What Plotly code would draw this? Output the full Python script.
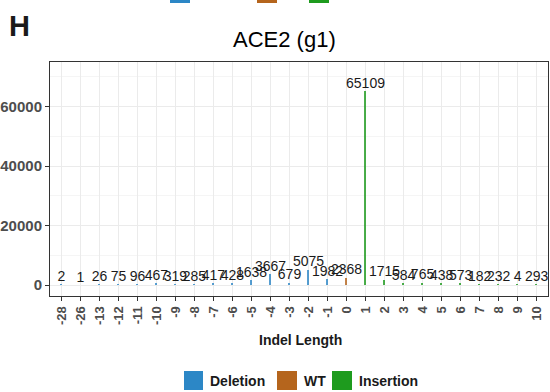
import plotly.graph_objects as go

# Indel lengths and read counts for ACE2 guide 1
indel_length = ["-28", "-26", "-13", "-12", "-11", "-10", "-9", "-8", "-7", "-6",
                "-5", "-4", "-3", "-2", "-1", "0", "1", "2", "3", "4",
                "5", "6", "7", "8", "9", "10"]
read_counts = [2, 1, 26, 75, 96, 467, 319, 285, 417, 428,
               1638, 3667, 679, 5075, 1982, 2368, 65109, 1715, 584, 765,
               438, 573, 182, 232, 4, 293]
indel_type = ["Deletion"] * 15 + ["WT"] + ["Insertion"] * 10

type_colors = {"Deletion": "#2C87C6", "WT": "#B5651D", "Insertion": "#1E9B1E"}
type_order = ["Deletion", "WT", "Insertion"]

FONT = "Liberation Sans, Arial, sans-serif"

# plot panel position in pixels
PL, PR, PT, PB = 50, 548, 62, 296


def px_x(p):
    return (p - PL) / (PR - PL)


def px_y(p):
    return (PB - p) / (PB - PT)


fig = go.Figure()

for t in type_order:
    xs = [x for x, k in zip(indel_length, indel_type) if k == t]
    ys = [y for y, k in zip(read_counts, indel_type) if k == t]
    fig.add_trace(go.Bar(
        x=xs, y=ys, name=t, width=0.07,
        marker=dict(color=type_colors[t], line=dict(width=0)),
        opacity=0.8, showlegend=False,
    ))

# count labels above each bar
fig.add_trace(go.Scatter(
    x=indel_length, y=read_counts, mode="text",
    text=[str(v) for v in read_counts], textposition="top center",
    textfont=dict(family=FONT, size=14, color="#1a1a1a"),
    showlegend=False, cliponaxis=False, hoverinfo="skip",
))

# partial legend swatches of the panel above, cut at the top edge
for x0, x1, t in [(170, 190, "Deletion"), (257, 277, "WT"), (309, 329, "Insertion")]:
    fig.add_shape(type="rect", xref="paper", yref="paper",
                  x0=px_x(x0), x1=px_x(x1), y0=px_y(3), y1=px_y(-5),
                  fillcolor=type_colors[t], line=dict(width=0), layer="above")

# bottom legend: coloured keys with bold labels
legend_items = [(184, 203, 208, "Deletion"), (277, 297, 302, "WT"), (332, 352, 357, "Insertion")]
for x0, x1, tx, t in legend_items:
    fig.add_shape(type="rect", xref="paper", yref="paper",
                  x0=px_x(x0), x1=px_x(x1), y0=px_y(390), y1=px_y(371),
                  fillcolor=type_colors[t], line=dict(width=0))
    fig.add_annotation(text="<b>%s</b>" % t, xref="paper", yref="paper",
                       x=px_x(tx), y=px_y(381), xanchor="left", yanchor="middle",
                       showarrow=False, font=dict(family=FONT, size=14, color="#1a1a1a"))

fig.add_annotation(text="<b>H</b>", xref="paper", yref="paper",
                   x=px_x(7), y=px_y(26), xanchor="left", yanchor="middle",
                   showarrow=False, font=dict(family=FONT, size=29, color="#1a1a1a"))
fig.add_annotation(text="ACE2 (g1)", xref="paper", yref="paper",
                   x=px_x(284), y=px_y(40), xanchor="center", yanchor="middle",
                   showarrow=False, font=dict(family=FONT, size=22, color="#000000"))
fig.add_annotation(text="<b>Indel Length</b>", xref="paper", yref="paper",
                   x=px_x(300), y=px_y(340), xanchor="center", yanchor="middle",
                   showarrow=False, font=dict(family=FONT, size=14, color="#1a1a1a"))

fig.update_layout(
    width=550, height=392,
    margin=dict(l=PL, r=550 - PR, t=PT, b=392 - PB),
    paper_bgcolor="white", plot_bgcolor="white",
    barmode="overlay", bargap=0,
    font=dict(family=FONT),
    showlegend=False,
    xaxis=dict(
        type="category", categoryorder="array", categoryarray=indel_length,
        range=[-0.6, 25.6], automargin=False,
        tickangle=-90, ticks="outside", ticklen=4, tickcolor="#333333",
        tickfont=dict(family=FONT, size=13, color="#4D4D4D", weight="bold"),
        showgrid=True, gridcolor="#EBEBEB", gridwidth=1,
        showline=True, linecolor="#333333", mirror=True, linewidth=1,
        zeroline=False,
    ),
    yaxis=dict(
        range=[-3700, 75000], automargin=False,
        tickvals=[0, 20000, 40000, 60000], tickformat="d",
        ticks="outside", ticklen=4, tickcolor="#333333",
        tickfont=dict(family=FONT, size=15, color="#4D4D4D", weight="bold"),
        showgrid=True, gridcolor="#EBEBEB", gridwidth=1,
        minor=dict(tickvals=[10000, 30000, 50000, 70000], showgrid=True,
                   gridcolor="#F5F5F5", ticks=""),
        showline=True, linecolor="#333333", mirror=True, linewidth=1,
        zeroline=False,
    ),
)

fig.write_html("out.html")
